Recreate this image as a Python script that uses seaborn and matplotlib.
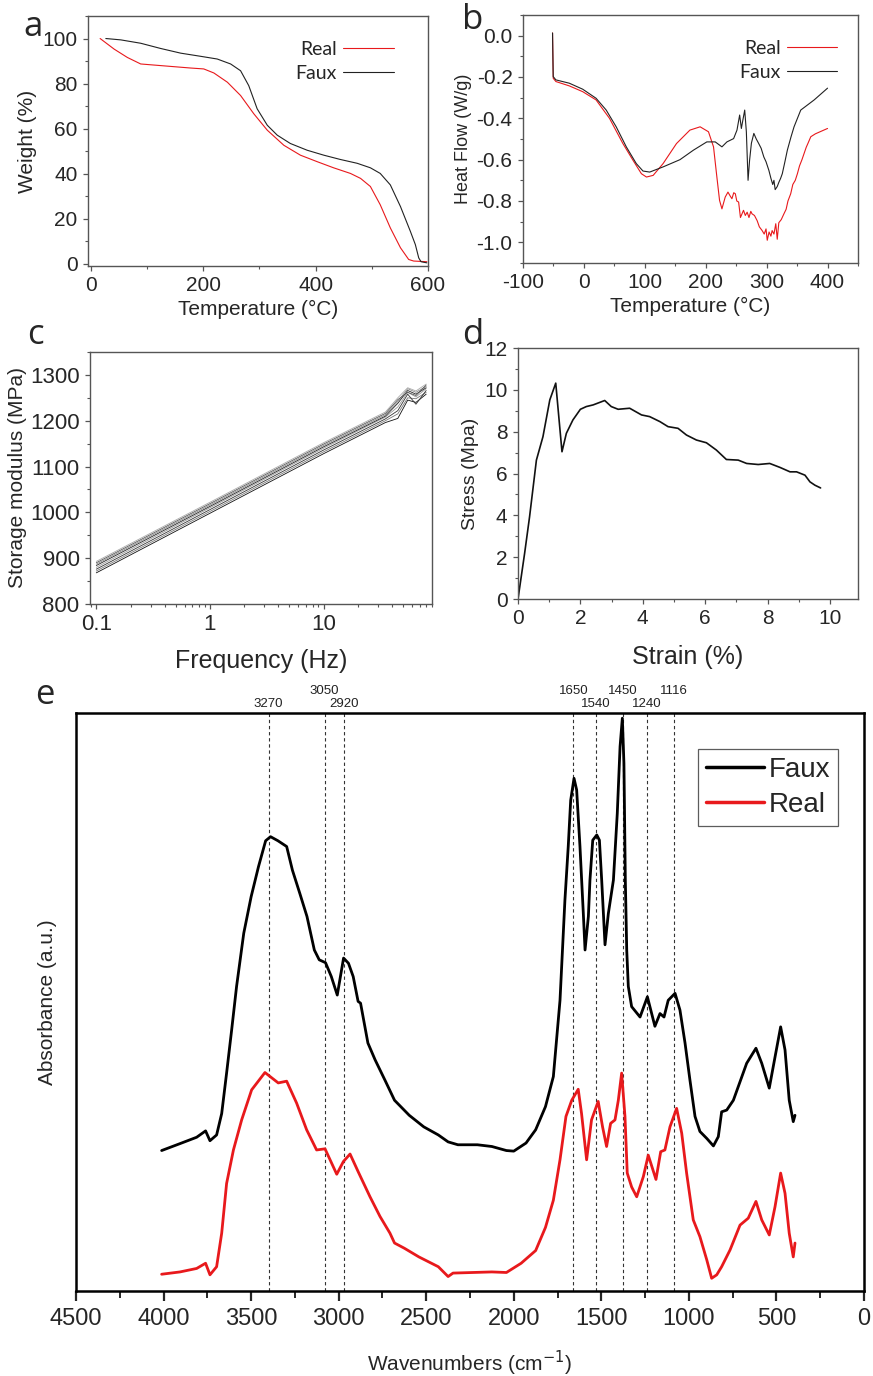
import numpy as np
import pandas as pd
import seaborn as sns
import matplotlib.pyplot as plt
from matplotlib.ticker import MultipleLocator, NullFormatter, LogLocator

# ---- panel a: TGA ----
tga_real_t = [16.6, 41.5, 65, 88.8, 148, 177.7, 201, 219, 243, 266.5, 290, 314, 343.5, 373, 403, 432, 462, 480, 497.5, 515, 533, 551, 565.6, 574.5, 598]
tga_real_w = [100, 95.3, 91.6, 88.7, 87.5, 86.9, 86.5, 84.7, 80.6, 74.7, 66.6, 59.3, 52.6, 48.2, 45.3, 42.6, 40.1, 37.9, 34.3, 26.2, 15.9, 7.1, 1.9, 1.2, 0.9]
tga_faux_t = [26.7, 53.3, 88.8, 124, 160, 195.5, 225, 248.8, 266.5, 281, 296, 314, 331.7, 355, 385, 414.6, 444, 474, 497.5, 515, 533, 551, 568.6, 577.5, 583.5, 587.6, 598]
tga_faux_w = [100, 99.4, 97.9, 95.6, 93.5, 92.1, 90.9, 88.7, 85.7, 79.1, 68.8, 61.5, 57.1, 53.4, 50.4, 48.2, 46.3, 44.6, 42.6, 40.1, 35, 25.4, 14.4, 8.5, 2.6, 0.9, 0.4]

# ---- panel b: DSC ----
dsc_faux_t = [-51.5, -50.4, -46, -24, -2, 20, 36.6, 53, 69.6, 86, 97, 108, 130, 157.7, 179.8, 201.8, 215.6, 226.6, 234.8, 245.8, 251.3,
              255.7, 258.5, 261, 264, 266.7, 269.5, 272, 275, 279, 283, 287, 291, 295.4, 299, 303.7, 307, 310, 312, 314, 317.4, 320,
              323, 325.7, 330, 334, 340, 345, 356, 378, 400]
dsc_faux_h = [0.013, -0.198, -0.214, -0.230, -0.259, -0.303, -0.360, -0.441, -0.538, -0.619, -0.655, -0.660, -0.635, -0.600, -0.554,
              -0.514, -0.514, -0.538, -0.514, -0.498, -0.457, -0.384, -0.449, -0.408, -0.360, -0.465, -0.700, -0.603, -0.520, -0.473,
              -0.500, -0.522, -0.545, -0.587, -0.610, -0.652, -0.690, -0.720, -0.700, -0.745, -0.730, -0.710, -0.690, -0.668, -0.610,
              -0.554, -0.490, -0.441, -0.360, -0.311, -0.254]
dsc_real_t = [-51.5, -50.4, -46, -24, -2, 20, 42, 64, 80.6, 94.4, 102.7, 113.7, 130, 152, 174, 190.8, 204.5, 212.8, 218.3, 222.7,
              226.6, 232, 236.5, 240, 243, 246, 248.6, 251, 254, 257, 259.6, 262, 265, 268, 271, 274, 276, 280, 284.4, 288, 292.6,
              296, 299, 301, 304, 307, 309, 312, 315, 317.4, 320, 324, 328.4, 332, 335, 339.5, 343, 347, 350.5, 354, 358, 361.5,
              365, 368, 372.5, 380, 390, 400]
dsc_real_h = [0.013, -0.206, -0.222, -0.243, -0.271, -0.311, -0.400, -0.522, -0.603, -0.668, -0.684, -0.676, -0.619, -0.522, -0.457,
              -0.441, -0.465, -0.538, -0.684, -0.797, -0.838, -0.781, -0.757, -0.775, -0.789, -0.760, -0.765, -0.800, -0.805, -0.880,
              -0.862, -0.845, -0.870, -0.854, -0.880, -0.850, -0.862, -0.870, -0.895, -0.925, -0.943, -0.960, -0.935, -0.990, -0.950,
              -0.970, -0.943, -0.960, -0.910, -0.985, -0.905, -0.890, -0.862, -0.840, -0.800, -0.765, -0.720, -0.700, -0.668, -0.630,
              -0.600, -0.570, -0.540, -0.520, -0.489, -0.475, -0.462, -0.449]

# ---- panel c: DMA frequency sweeps ----
dma_freq = [0.1, 1, 10, 35, 45, 55, 65, 80]
dma_runs = [
    [868, 998, 1128, 1196, 1205, 1245, 1240, 1258],
    [872, 1002, 1132, 1200, 1215, 1250, 1248, 1262],
    [876, 1006, 1136, 1204, 1222, 1258, 1236, 1266],
    [880, 1010, 1140, 1208, 1230, 1262, 1252, 1270],
    [884, 1013, 1143, 1210, 1238, 1266, 1258, 1272],
    [887, 1016, 1146, 1213, 1242, 1270, 1262, 1275],
    [890, 1019, 1149, 1216, 1246, 1262, 1255, 1278],
    [893, 1022, 1152, 1219, 1250, 1272, 1265, 1280],
]
dma_colors = ["#111111", "#777777", "#333333", "#999999", "#222222", "#888888", "#555555", "#aaaaaa"]

# ---- panel d: tensile ----
strain = [0, 0.21, 0.37, 0.59, 0.80, 1.02, 1.21, 1.41, 1.55, 1.76, 2.0, 2.19, 2.41, 2.78, 2.99, 3.21, 3.58, 3.96, 4.22, 4.55, 4.81,
          5.13, 5.40, 5.72, 6.04, 6.36, 6.68, 7.06, 7.33, 7.70, 8.07, 8.40, 8.72, 8.93, 9.20, 9.36, 9.52, 9.70]
stress = [0, 2.16, 3.92, 6.64, 7.76, 9.52, 10.32, 7.04, 7.92, 8.56, 9.07, 9.2, 9.28, 9.49, 9.2, 9.07, 9.12, 8.8, 8.72, 8.48, 8.24,
          8.16, 7.84, 7.6, 7.47, 7.12, 6.67, 6.64, 6.48, 6.43, 6.48, 6.29, 6.08, 6.08, 5.92, 5.6, 5.44, 5.31]

# ---- panel e: FTIR ----
faux_wn = [4011, 3906, 3811, 3760, 3735, 3697, 3668, 3640, 3611, 3583, 3542, 3500, 3458, 3417, 3389, 3347, 3297, 3264, 3222, 3181,
           3139, 3111, 3075, 3042, 3008, 2972, 2944, 2917, 2889, 2875, 2833, 2792, 2736, 2681, 2597, 2514, 2431, 2375, 2319, 2208,
           2125, 2042, 2000, 1930, 1875, 1819, 1774, 1736, 1708, 1689, 1675, 1656, 1641, 1622, 1603, 1593, 1574, 1565, 1549, 1526,
           1511, 1498, 1479, 1460, 1431, 1409, 1393, 1380, 1371, 1363, 1355, 1346, 1327, 1279, 1237, 1194, 1165, 1142, 1118, 1079,
           1051, 1022, 994, 965, 937, 898, 860, 832, 813, 784, 746, 708, 670, 617, 584, 541, 508, 476, 451, 427, 404, 394]
faux_abs = [0.243, 0.255, 0.266, 0.277, 0.260, 0.270, 0.307, 0.377, 0.452, 0.527, 0.619, 0.682, 0.734, 0.779, 0.786, 0.779, 0.769,
            0.728, 0.688, 0.648, 0.590, 0.573, 0.568, 0.544, 0.512, 0.576, 0.567, 0.544, 0.501, 0.498, 0.429, 0.400, 0.365, 0.330,
            0.304, 0.284, 0.270, 0.258, 0.253, 0.253, 0.250, 0.243, 0.242, 0.256, 0.279, 0.319, 0.371, 0.503, 0.676, 0.769, 0.849,
            0.887, 0.867, 0.769, 0.654, 0.590, 0.648, 0.711, 0.780, 0.789, 0.780, 0.711, 0.599, 0.653, 0.711, 0.826, 0.942, 0.991,
            0.913, 0.711, 0.590, 0.527, 0.492, 0.474, 0.509, 0.458, 0.480, 0.474, 0.503, 0.515, 0.486, 0.429, 0.365, 0.302, 0.276,
            0.264, 0.251, 0.267, 0.310, 0.313, 0.330, 0.362, 0.394, 0.420, 0.394, 0.351, 0.405, 0.457, 0.417, 0.330, 0.293, 0.304]
real_wn = [4011, 3906, 3811, 3760, 3735, 3697, 3668, 3640, 3601, 3554, 3497, 3421, 3345, 3297, 3240, 3183, 3126, 3078, 3011, 2973,
           2935, 2888, 2821, 2764, 2707, 2681, 2625, 2542, 2431, 2375, 2347, 2236, 2125, 2042, 1958, 1875, 1819, 1774, 1736, 1702,
           1669, 1632, 1613, 1584, 1556, 1518, 1493, 1470, 1447, 1422, 1403, 1384, 1365, 1352, 1327, 1298, 1260, 1232, 1188, 1161,
           1137, 1108, 1070, 1041, 1013, 975, 937, 898, 870, 841, 813, 765, 708, 661, 617, 584, 541, 508, 476, 451, 427, 404, 394]
real_abs = [0.029, 0.033, 0.039, 0.048, 0.028, 0.042, 0.100, 0.186, 0.244, 0.296, 0.348, 0.378, 0.360, 0.363, 0.325, 0.279, 0.244,
            0.246, 0.202, 0.224, 0.237, 0.206, 0.163, 0.129, 0.100, 0.083, 0.074, 0.059, 0.042, 0.025, 0.031, 0.032, 0.033, 0.032,
            0.048, 0.070, 0.110, 0.157, 0.227, 0.302, 0.330, 0.349, 0.307, 0.227, 0.296, 0.328, 0.284, 0.250, 0.290, 0.296, 0.330,
            0.377, 0.302, 0.204, 0.180, 0.163, 0.198, 0.235, 0.193, 0.241, 0.244, 0.284, 0.316, 0.273, 0.204, 0.123, 0.094, 0.054,
            0.022, 0.028, 0.042, 0.071, 0.114, 0.126, 0.155, 0.123, 0.097, 0.146, 0.204, 0.169, 0.100, 0.059, 0.083]
peak_pos = [3400, 3080, 2970, 1660, 1530, 1375, 1240, 1085]
peak_labels = ["3270", "3050", "2920", "1650", "1540", "1450", "1240", "1116"]
peak_row = [0, 1, 0, 1, 0, 1, 0, 1]

RED = "#e8191c"

sns.set_theme(style="ticks")
plt.rcParams["font.family"] = ["Liberation Sans", "DejaVu Sans"]
plt.rcParams["axes.unicode_minus"] = False

W, H = 873, 1376
fig = plt.figure(figsize=(W / 100, H / 100), dpi=100)


def rect(l, t, r, b):
    return [l / W, 1 - b / H, (r - l) / W, (b - t) / H]


def style_small(ax, fs=13):
    for s in ax.spines.values():
        s.set_color("#555555")
        s.set_linewidth(1.0)
    ax.tick_params(which="major", direction="out", length=3.5, width=0.9, color="#555555", labelsize=fs, pad=4)
    ax.tick_params(which="minor", direction="out", length=2, width=0.8, color="#555555")


# panel a
ax_a = fig.add_axes(rect(88, 16, 428, 266))
sns.lineplot(x=tga_real_t, y=tga_real_w, ax=ax_a, color=RED, lw=0.8, sort=False, estimator=None, label="Real")
sns.lineplot(x=tga_faux_t, y=tga_faux_w, ax=ax_a, color="#222222", lw=0.8, sort=False, estimator=None, label="Faux")
ax_a.set_xlim(-5, 600)
ax_a.set_ylim(-1, 110)
ax_a.set_xticks([0, 200, 400, 600])
ax_a.set_yticks([0, 20, 40, 60, 80, 100])
ax_a.xaxis.set_minor_locator(MultipleLocator(100))
ax_a.yaxis.set_minor_locator(MultipleLocator(10))
style_small(ax_a, 15)
ax_a.set_xlabel("Temperature (°C)", fontsize=15, labelpad=3)
ax_a.set_ylabel("Weight (%)", fontsize=15, labelpad=4)
ax_a.legend(loc="upper right", frameon=False, markerfirst=False, handlelength=2.6, handletextpad=0.3,
            labelspacing=0.35, prop={"family": "Lato", "size": 14}, bbox_to_anchor=(0.95, 0.97))

# panel b
ax_b = fig.add_axes(rect(523, 15, 858, 263))
sns.lineplot(x=dsc_real_t, y=dsc_real_h, ax=ax_b, color=RED, lw=0.8, sort=False, estimator=None, label="Real")
sns.lineplot(x=dsc_faux_t, y=dsc_faux_h, ax=ax_b, color="#222222", lw=0.8, sort=False, estimator=None, label="Faux")
ax_b.set_xlim(-100, 450)
ax_b.set_ylim(-1.1, 0.1)
ax_b.set_xticks([-100, 0, 100, 200, 300, 400])
ax_b.set_yticks([0.0, -0.2, -0.4, -0.6, -0.8, -1.0])
ax_b.set_yticklabels(["0.0", "-0.2", "-0.4", "-0.6", "-0.8", "-1.0"])
ax_b.xaxis.set_minor_locator(MultipleLocator(50))
ax_b.yaxis.set_minor_locator(MultipleLocator(0.1))
style_small(ax_b, 15)
ax_b.set_xlabel("Temperature (°C)", fontsize=15, labelpad=3)
ax_b.set_ylabel("Heat Flow (W/g)", fontsize=13, labelpad=3)
ax_b.legend(loc="upper right", frameon=False, markerfirst=False, handlelength=2.6, handletextpad=0.3,
            labelspacing=0.35, prop={"family": "Lato", "size": 14}, bbox_to_anchor=(0.99, 0.97))

# panel c
ax_c = fig.add_axes(rect(90, 352, 432, 604))
dma = pd.DataFrame({"freq": dma_freq * len(dma_runs),
                    "mod": [v for run in dma_runs for v in run],
                    "run": [i for i in range(len(dma_runs)) for _ in dma_freq]})
sns.lineplot(data=dma, x="freq", y="mod", hue="run", palette=dma_colors, ax=ax_c, lw=0.6,
             sort=False, estimator=None, legend=False)
ax_c.set_xscale("log")
ax_c.set_xlim(0.088, 90)
ax_c.set_ylim(800, 1350)
ax_c.set_xticks([0.1, 1, 10])
ax_c.set_xticklabels(["0.1", "1", "10"])
ax_c.xaxis.set_minor_locator(LogLocator(base=10, subs=np.arange(2, 10)))
ax_c.xaxis.set_minor_formatter(NullFormatter())
ax_c.set_yticks([800, 900, 1000, 1100, 1200, 1300])
ax_c.yaxis.set_minor_locator(MultipleLocator(50))
style_small(ax_c, 16)
ax_c.set_xlabel("Frequency (Hz)", fontsize=18, labelpad=10)
ax_c.set_ylabel("Storage modulus (MPa)", fontsize=15, labelpad=2)

# panel d
ax_d = fig.add_axes(rect(518, 348, 858, 599))
sns.lineplot(x=strain, y=stress, ax=ax_d, color="#111111", lw=1.2, sort=False, estimator=None)
ax_d.set_xlim(0, 10.9)
ax_d.set_ylim(0, 12)
ax_d.set_xticks([0, 2, 4, 6, 8, 10])
ax_d.set_yticks([0, 2, 4, 6, 8, 10, 12])
ax_d.xaxis.set_minor_locator(MultipleLocator(1))
ax_d.yaxis.set_minor_locator(MultipleLocator(1))
style_small(ax_d, 15)
ax_d.set_xlabel("Strain (%)", fontsize=18, labelpad=12)
ax_d.set_ylabel("Stress (Mpa)", fontsize=14, labelpad=4)

# panel e
ax_e = fig.add_axes(rect(76, 713, 864, 1291))
ftir = pd.concat([pd.DataFrame({"wn": faux_wn, "abs": faux_abs, "sample": "Faux"}),
                  pd.DataFrame({"wn": real_wn, "abs": real_abs, "sample": "Real"})])
sns.lineplot(data=ftir, x="wn", y="abs", hue="sample", palette={"Faux": "black", "Real": RED},
             ax=ax_e, lw=2.0, sort=False, estimator=None)
for p in peak_pos:
    ax_e.axvline(p, color="#333333", lw=0.8, ls=(0, (3, 2.5)), zorder=0)
for p, lab, row in zip(peak_pos, peak_labels, peak_row):
    ax_e.text(p, 1.016 + 0.022 * row, lab, transform=ax_e.get_xaxis_transform(), ha="center", va="center",
              fontsize=9.5, family="Liberation Sans", color="#222222")
ax_e.set_xlim(4500, 0)
ax_e.set_ylim(0, 1)
ax_e.xaxis.set_major_locator(MultipleLocator(500))
ax_e.xaxis.set_minor_locator(MultipleLocator(250))
ax_e.set_yticks([])
for s in ax_e.spines.values():
    s.set_color("black")
    s.set_linewidth(1.8)
ax_e.tick_params(which="major", direction="out", length=7, width=1.6, labelsize=17, pad=5)
ax_e.tick_params(which="minor", direction="out", length=5, width=1.4)
ax_e.set_xlabel("Wavenumbers (cm$^{-1}$)", fontsize=15, labelpad=14)
ax_e.set_ylabel("Absorbance (a.u.)", fontsize=15, labelpad=14)
leg = ax_e.legend(loc="upper right", bbox_to_anchor=(0.985, 0.962), frameon=True, fancybox=False,
                  handlelength=2.1, handletextpad=0.15, labelspacing=0.3, borderpad=0.3,
                  prop={"family": "Liberation Sans", "size": 20})
leg.get_frame().set_edgecolor("#333333")
leg.get_frame().set_linewidth(0.9)
for h in leg.get_lines():
    h.set_linewidth(2.5)

# panel letters
for ch, x, y in [("a", 33, 27), ("b", 473, 20), ("c", 35, 335), ("d", 473, 335), ("e", 45, 695)]:
    fig.text(x / W, 1 - y / H, ch, fontsize=25, family="Open Sans", ha="center", va="center")

fig.savefig("out.png", dpi=100)
